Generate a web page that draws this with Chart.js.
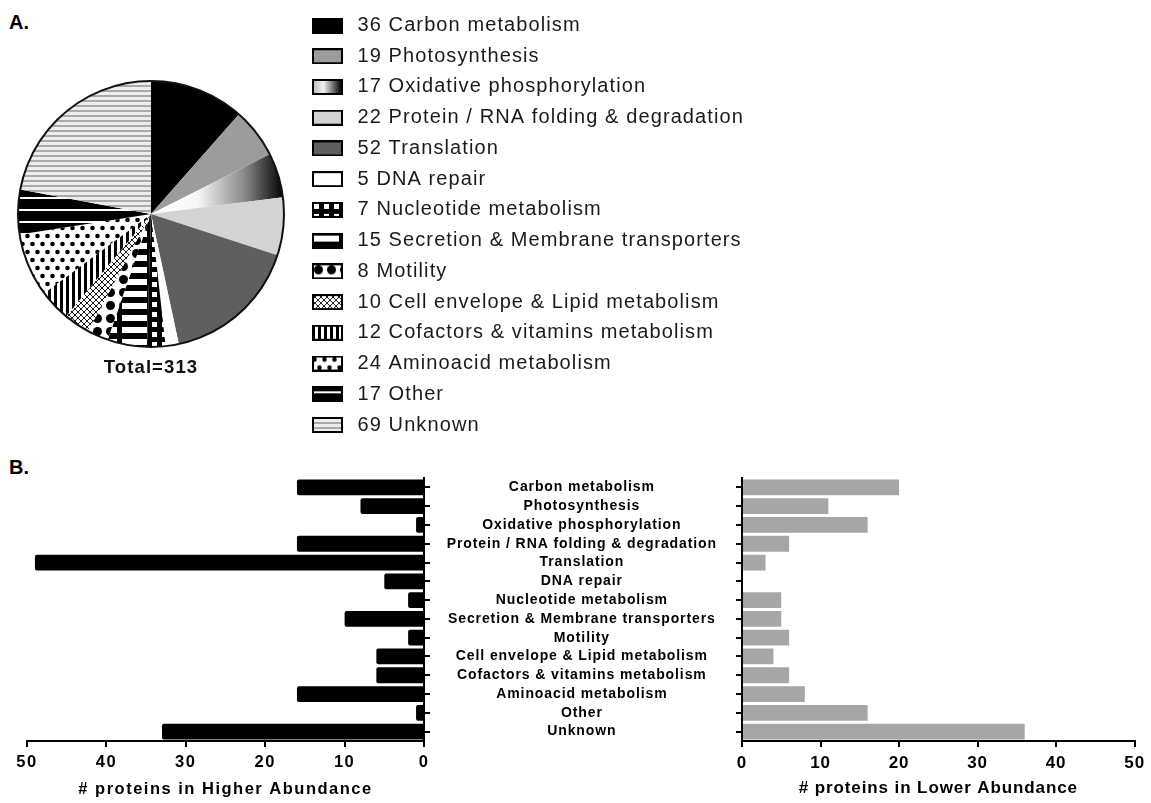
<!DOCTYPE html>
<html><head><meta charset="utf-8">
<script src="https://cdn.jsdelivr.net/npm/chart.js@4.4.1/dist/chart.umd.min.js"></script>
<style>
html,body{margin:0;padding:0;background:#fff;}
body{width:1151px;height:803px;position:relative;overflow:hidden;font-family:'Liberation Sans',Arial,sans-serif;}
.box{position:absolute;}
.box canvas{display:block;}
.panel{position:absolute;font:bold 20px 'Liberation Sans',Arial,sans-serif;line-height:20px;color:#000;}
</style></head><body>
<div class="panel" style="left:9px;top:12px">A.</div>
<div class="panel" style="left:9px;top:457px">B.</div>
<div class="box" style="left:0;top:0;width:800px;height:455px"><canvas id="pie"></canvas></div>
<div class="box" style="left:0;top:455px;width:440px;height:348px"><canvas id="left"></canvas></div>
<div class="box" style="left:430px;top:455px;width:721px;height:348px"><canvas id="right"></canvas></div>
<script>
// ---------- data ----------
const categories = ['Carbon metabolism','Photosynthesis','Oxidative phosphorylation','Protein / RNA folding & degradation','Translation','DNA repair','Nucleotide metabolism','Secretion & Membrane transporters','Motility','Cell envelope & Lipid metabolism','Cofactors & vitamins metabolism','Aminoacid metabolism','Other','Unknown'];
const totalCounts = [36,19,17,22,52,5,7,15,8,10,12,24,17,69];
const higherAbundance = [16,8,1,16,49,5,2,10,2,6,6,16,1,33];
const lowerAbundance = [20,11,16,6,3,0,5,5,6,4,6,8,16,36];
const xTickMax = 50;
const xTickStep = 10;
const higherTitle = '# proteins in Higher Abundance';
const lowerTitle = '# proteins in Lower Abundance';
const total = totalCounts.reduce((a,b)=>a+b,0);

// ---------- layout / style ----------
Chart.defaults.font.family = "'Liberation Sans', Arial, sans-serif";
Chart.defaults.color = '#000';
const PIE = {cx:151, cy:214, r:133, titleY:368};
const LEG = {boxLeft:312, firstRowY:25.5, rowStep:30.73, font:20, markWidth:40};

function tile(w,h,draw){const c=document.createElement('canvas');c.width=w;c.height=h;const g=c.getContext('2d');draw(g,w,h);return c;}
const tiles = {
  nucleotide: tile(10,10,g=>{g.fillStyle='#000';g.fillRect(0,0,10,10);g.fillStyle='#fff';g.fillRect(2,2,5,5);}),
  secretion: tile(30,12,g=>{g.fillStyle='#000';g.fillRect(0,0,30,12);g.fillStyle='#fff';g.fillRect(2,3,25,6);}),
  motility: tile(13,13,g=>{g.fillStyle='#fff';g.fillRect(0,0,13,13);g.fillStyle='#000';g.beginPath();g.arc(6.5,6.5,4.5,0,Math.PI*2);g.fill();}),
  envelope: tile(6,6,g=>{g.fillStyle='#fff';g.fillRect(0,0,6,6);g.strokeStyle='#000';g.lineWidth=0.9;g.beginPath();g.moveTo(0,0);g.lineTo(6,6);g.moveTo(6,0);g.lineTo(0,6);g.stroke();}),
  cofactors: tile(6,2,g=>{g.fillStyle='#fff';g.fillRect(0,0,6,2);g.fillStyle='#000';g.fillRect(0,0,3,2);}),
  amino: tile(10,16,g=>{g.fillStyle='#fff';g.fillRect(0,0,10,16);g.fillStyle='#000';[[2.5,4],[7.5,12]].forEach(([x,y])=>{g.beginPath();g.arc(x,y,2.3,0,Math.PI*2);g.fill();});}),
  other: tile(2,12,g=>{g.fillStyle='#000';g.fillRect(0,0,2,12);g.fillStyle='#fff';g.fillRect(0,5,2,2);}),
  unknown: tile(2,5,g=>{g.fillStyle='#ededed';g.fillRect(0,0,2,5);g.fillStyle='#a9a9a9';g.fillRect(0,0,2,2);})
};
const sliceStyles = ['#000','#9c9c9c','gradient','#d3d3d3','#5f5f5f','#fff',tiles.nucleotide,tiles.secretion,tiles.motility,tiles.envelope,tiles.cofactors,tiles.amino,tiles.other,tiles.unknown];

function styleFor(g,i){const s=sliceStyles[i];return (typeof s==='object')?g.createPattern(s,'repeat'):s;}
const swatches = categories.map((_,i)=>tile(31,16,g=>{
  let f;
  if(sliceStyles[i]==='gradient'){f=g.createLinearGradient(2,0,29,0);f.addColorStop(0,'#bdbdbd');f.addColorStop(0.35,'#f2f2f2');f.addColorStop(1,'#050505');}
  else f=styleFor(g,i);
  g.fillStyle=f;g.fillRect(1,1,29,14);g.strokeStyle='#000';g.lineWidth=2;g.strokeRect(1,1,29,14);
}));

const spacing = px => ({id:'letterSpacing',
  beforeUpdate(c){c.ctx.letterSpacing=px+'px';},
  beforeDraw(c){c.ctx.letterSpacing=px+'px';}});

// ---------- pie ----------
const pieCtx = document.getElementById('pie').getContext('2d');
const pieFills = sliceStyles.map(s=>(typeof s==='object')?pieCtx.createPattern(s,'repeat'):s);
function pieFill(c){
  const i=c.dataIndex;
  if(sliceStyles[i]==='gradient'){
    const ca=c.chart.chartArea; if(!ca) return '#888';
    const cx=(ca.left+ca.right)/2;
    const gr=c.chart.ctx.createLinearGradient(cx,0,cx+PIE.r,0);
    gr.addColorStop(0,'#ffffff');gr.addColorStop(0.35,'#f7f7f7');gr.addColorStop(0.7,'#8a8a8a');gr.addColorStop(1,'#000');
    return gr;
  }
  return pieFills[i];
}
const pieLayout = {id:'pieLayout', afterLayout(chart){
  const a=chart.chartArea, m=6;
  a.left=PIE.cx-PIE.r-m; a.right=PIE.cx+PIE.r+m; a.top=PIE.cy-PIE.r-m; a.bottom=PIE.cy+PIE.r+m;
  a.width=a.right-a.left; a.height=a.bottom-a.top;
  const lg=chart.legend, pad=lg.options.labels.padding;
  const cursorX=LEG.boxLeft-(LEG.markWidth-31)/2;
  lg.left=cursorX-pad; lg.right=chart.width; lg.top=LEG.firstRowY-LEG.font/2-pad; lg.bottom=chart.height;
  lg.width=lg.right-lg.left; lg.height=lg.bottom-lg.top;
  const tb=chart.titleBlock, lh=tb.options.font.size*1.2;
  tb.left=a.left; tb.right=a.right; tb.top=PIE.titleY-lh/2; tb.bottom=tb.top+lh;
  tb.width=tb.right-tb.left; tb.height=lh;
}};
const pieOutline = {id:'pieOutline', afterDatasetsDraw(chart){
  const arc=chart.getDatasetMeta(0).data[0]; if(!arc) return;
  const g=chart.ctx; g.save(); g.beginPath(); g.arc(arc.x,arc.y,arc.outerRadius,0,Math.PI*2);
  g.lineWidth=2; g.strokeStyle='#111'; g.stroke(); g.restore();
}};
new Chart(pieCtx,{
  type:'pie',
  data:{labels:categories,datasets:[{data:totalCounts,backgroundColor:pieFill,borderWidth:0}]},
  options:{responsive:true,maintainAspectRatio:false,animation:false,radius:PIE.r,
    plugins:{
      legend:{position:'right',align:'start',labels:{usePointStyle:true,pointStyleWidth:LEG.markWidth,padding:LEG.rowStep-LEG.font,font:{size:LEG.font},color:'#1a1a1a',
        generateLabels:()=>categories.map((name,i)=>({text:`${totalCounts[i]} ${name}`,pointStyle:swatches[i],fillStyle:'#000',strokeStyle:'#000',lineWidth:0,hidden:false,index:i,fontColor:'#1a1a1a'}))}},
      title:{display:true,position:'bottom',text:'Total='+total,font:{size:18.5,weight:'bold'},color:'#111',padding:0},
      tooltip:{enabled:false}
    }},
  plugins:[spacing(1.1),pieLayout,pieOutline]
});

// ---------- bars ----------
function xScale(title,reverse,fontSize){const f={size:fontSize,weight:'bold'};return {type:'linear',reverse,min:0,max:xTickMax,
  ticks:{stepSize:xTickStep,font:f,color:'#000',padding:6},
  grid:{drawOnChartArea:false,drawTicks:true,tickLength:6,color:'#000',lineWidth:2},
  border:{color:'#000',width:2},
  title:{display:true,text:title,font:f,color:'#000',padding:{top:0,bottom:4}},
  afterFit:s=>{s.height=62;}};}
const yGrid = {offset:false,drawOnChartArea:false,drawTicks:true,tickLength:6,color:'#000',lineWidth:2};

new Chart(document.getElementById('left'),{
  type:'bar',
  data:{labels:categories,datasets:[{data:higherAbundance,backgroundColor:'#000',borderRadius:2,borderSkipped:'start',barPercentage:0.84,categoryPercentage:1}]},
  options:{indexAxis:'y',responsive:true,maintainAspectRatio:false,animation:false,
    layout:{padding:{left:27,top:23,right:0,bottom:0}},
    plugins:{legend:{display:false},tooltip:{enabled:false}},
    scales:{
      x:xScale(higherTitle,true,16.5),
      y:{position:'right',ticks:{display:false},grid:yGrid,border:{color:'#000',width:2},afterFit:s=>{s.width=16;s.paddingTop=0;s.paddingBottom=0;}}
    }},
  plugins:[spacing(1.5)]
});

new Chart(document.getElementById('right'),{
  type:'bar',
  data:{labels:categories,datasets:[{data:lowerAbundance,backgroundColor:'#a6a6a6',barPercentage:0.84,categoryPercentage:1}]},
  options:{indexAxis:'y',responsive:true,maintainAspectRatio:false,animation:false,
    layout:{padding:{left:0,top:23,right:14,bottom:0}},
    plugins:{legend:{display:false},tooltip:{enabled:false}},
    scales:{
      x:xScale(lowerTitle,false,17),
      y:{position:'left',ticks:{font:{size:14,weight:'bold'},color:'#000',crossAlign:'center',padding:19,autoSkip:false},grid:yGrid,border:{color:'#000',width:2},afterFit:s=>{s.width=312;s.paddingTop=0;s.paddingBottom=0;}}
    }},
  plugins:[spacing(0.9)]
});
</script>
</body></html>
